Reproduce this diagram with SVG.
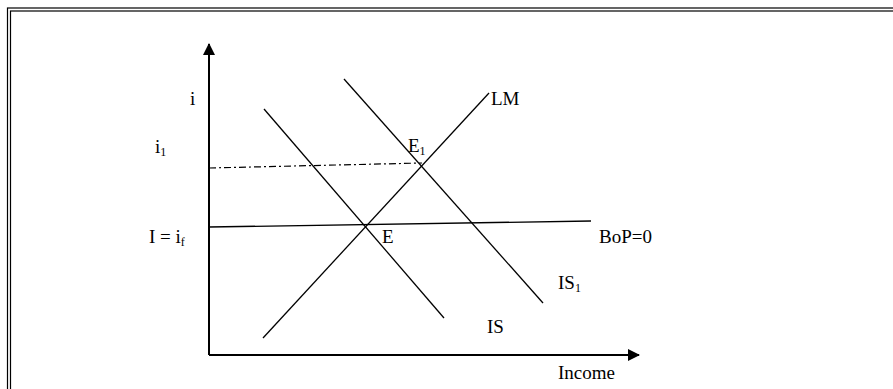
<svg xmlns="http://www.w3.org/2000/svg" width="893" height="389" viewBox="0 0 893 389">
<style>
.frame{fill:none;stroke:#000;stroke-width:1.2}
.ax{stroke:#000;stroke-width:2;fill:none}
.ln{stroke:#000;stroke-width:1.3;fill:none}
.dd{stroke:#000;stroke-width:1.2;fill:none;stroke-dasharray:7 3 2 3}
text{font-family:"Liberation Serif","Times New Roman",serif;font-size:19px;fill:#000}
.sub{font-size:12px}
</style>
<defs>
<marker id="arr" viewBox="0 0 12 12" refX="11" refY="6" markerWidth="12" markerHeight="12" markerUnits="userSpaceOnUse" orient="auto">
<path d="M0,0 L12,6 L0,12 Z" fill="#000"/>
</marker>
</defs>
<rect class="frame" x="7.5" y="8" width="900" height="400"/>
<rect class="frame" x="10.5" y="11" width="900" height="400"/>
<g id="axes">
<path class="ax" d="M209,355 L209,44" marker-end="url(#arr)"/>
<path class="ax" d="M209,355 L639,355" marker-end="url(#arr)"/>
</g>
<g id="connectors">
<line id="LM" class="ln" x1="263" y1="338" x2="489" y2="93"/>
<line id="IS" class="ln" x1="264" y1="109" x2="444" y2="318"/>
<line id="IS1" class="ln" x1="344" y1="79" x2="543" y2="303"/>
<line id="BoP" class="ln" x1="209" y1="227" x2="591" y2="221"/>
<line id="i1line" class="dd" x1="209" y1="168" x2="422" y2="163"/>
</g>
<g id="labels">
<text x="190" y="105">i</text>
<text x="155" y="153">i<tspan class="sub" dy="3">1</tspan></text>
<text x="149" y="243">I = i<tspan class="sub" dy="3">f</tspan></text>
<text x="491" y="105">LM</text>
<text x="408" y="152">E<tspan class="sub" dy="3">1</tspan></text>
<text x="382" y="243">E</text>
<text x="599" y="243">BoP=0</text>
<text x="558" y="289">IS<tspan class="sub" dy="3">1</tspan></text>
<text x="487" y="333">IS</text>
<text x="558" y="379">Income</text>
</g>
</svg>
